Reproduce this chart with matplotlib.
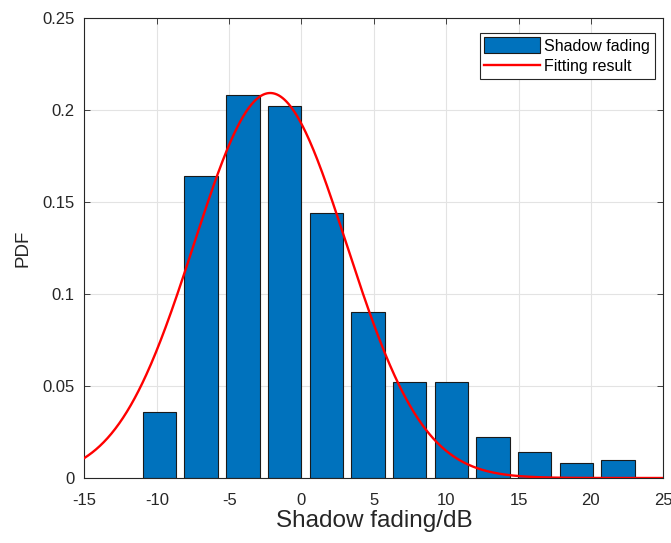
import numpy as np
import matplotlib
matplotlib.use("Agg")
import matplotlib.pyplot as plt
from matplotlib.ticker import FixedLocator, FuncFormatter

plt.rcParams["font.family"] = ["Liberation Sans", "DejaVu Sans"]
plt.rcParams["axes.unicode_minus"] = False

# Histogram of shadow fading (probability per bin)
bin_centers = [-9.81, -6.93, -4.05, -1.17, 1.71, 4.59, 7.47, 10.35, 13.23, 16.12, 19.00, 21.88]
bin_probs = [0.036, 0.164, 0.208, 0.202, 0.144, 0.090, 0.052, 0.052, 0.022, 0.014, 0.008, 0.010]

# Gaussian fit of the shadow fading distribution
fit_mu = -2.16
fit_sigma = 5.28
fit_peak = 0.2091

x_ticks = [-15, -10, -5, 0, 5, 10, 15, 20, 25]
y_ticks = [0, 0.05, 0.1, 0.15, 0.2, 0.25]

ink = "#262626"

fig = plt.figure(figsize=(6.71, 5.43), dpi=100)
ax = fig.add_axes([0.1258, 0.1197, 0.8627, 0.8477])

bars = ax.bar(bin_centers, bin_probs, width=2.31, color="#0072BD",
              edgecolor="#1a1a1a", linewidth=0.8, label="Shadow fading", zorder=2)

xs = np.linspace(-15, 25, 600)
ys = fit_peak * np.exp(-(xs - fit_mu) ** 2 / (2 * fit_sigma ** 2))
line, = ax.plot(xs, ys, color="#FF0000", linewidth=1.7, label="Fitting result", zorder=3)

ax.set_xlim(-15, 25)
ax.set_ylim(0, 0.25)
ax.xaxis.set_major_locator(FixedLocator(x_ticks))
ax.yaxis.set_major_locator(FixedLocator(y_ticks))
ax.xaxis.set_major_formatter(FuncFormatter(lambda v, p: f"{v:g}"))
ax.yaxis.set_major_formatter(FuncFormatter(lambda v, p: f"{v:g}"))

ax.set_axisbelow(True)
ax.grid(True, color="#e3e3e3", linewidth=0.8)
for s in ax.spines.values():
    s.set_color(ink)
    s.set_linewidth(0.8)
ax.tick_params(direction="in", length=4, width=0.6, colors=ink,
               top=True, right=True, labelsize=12)
ax.tick_params(axis="x", pad=10.5)
ax.tick_params(axis="y", pad=7)

ax.set_xlabel("Shadow fading/dB", fontsize=17.5, color=ink, labelpad=2)
ax.set_ylabel("PDF", fontsize=13.5, color=ink, labelpad=8)

leg = ax.legend(handles=[bars, line], loc="upper right",
                bbox_to_anchor=(0.9857, 0.9674),
                borderaxespad=0, fontsize=11.5, fancybox=False,
                edgecolor=ink, framealpha=1, handlelength=3.5,
                handleheight=1.1, handletextpad=0.25, labelspacing=0.28,
                borderpad=0.3)
leg.get_frame().set_linewidth(0.8)

fig.savefig("out.png", dpi=100)
